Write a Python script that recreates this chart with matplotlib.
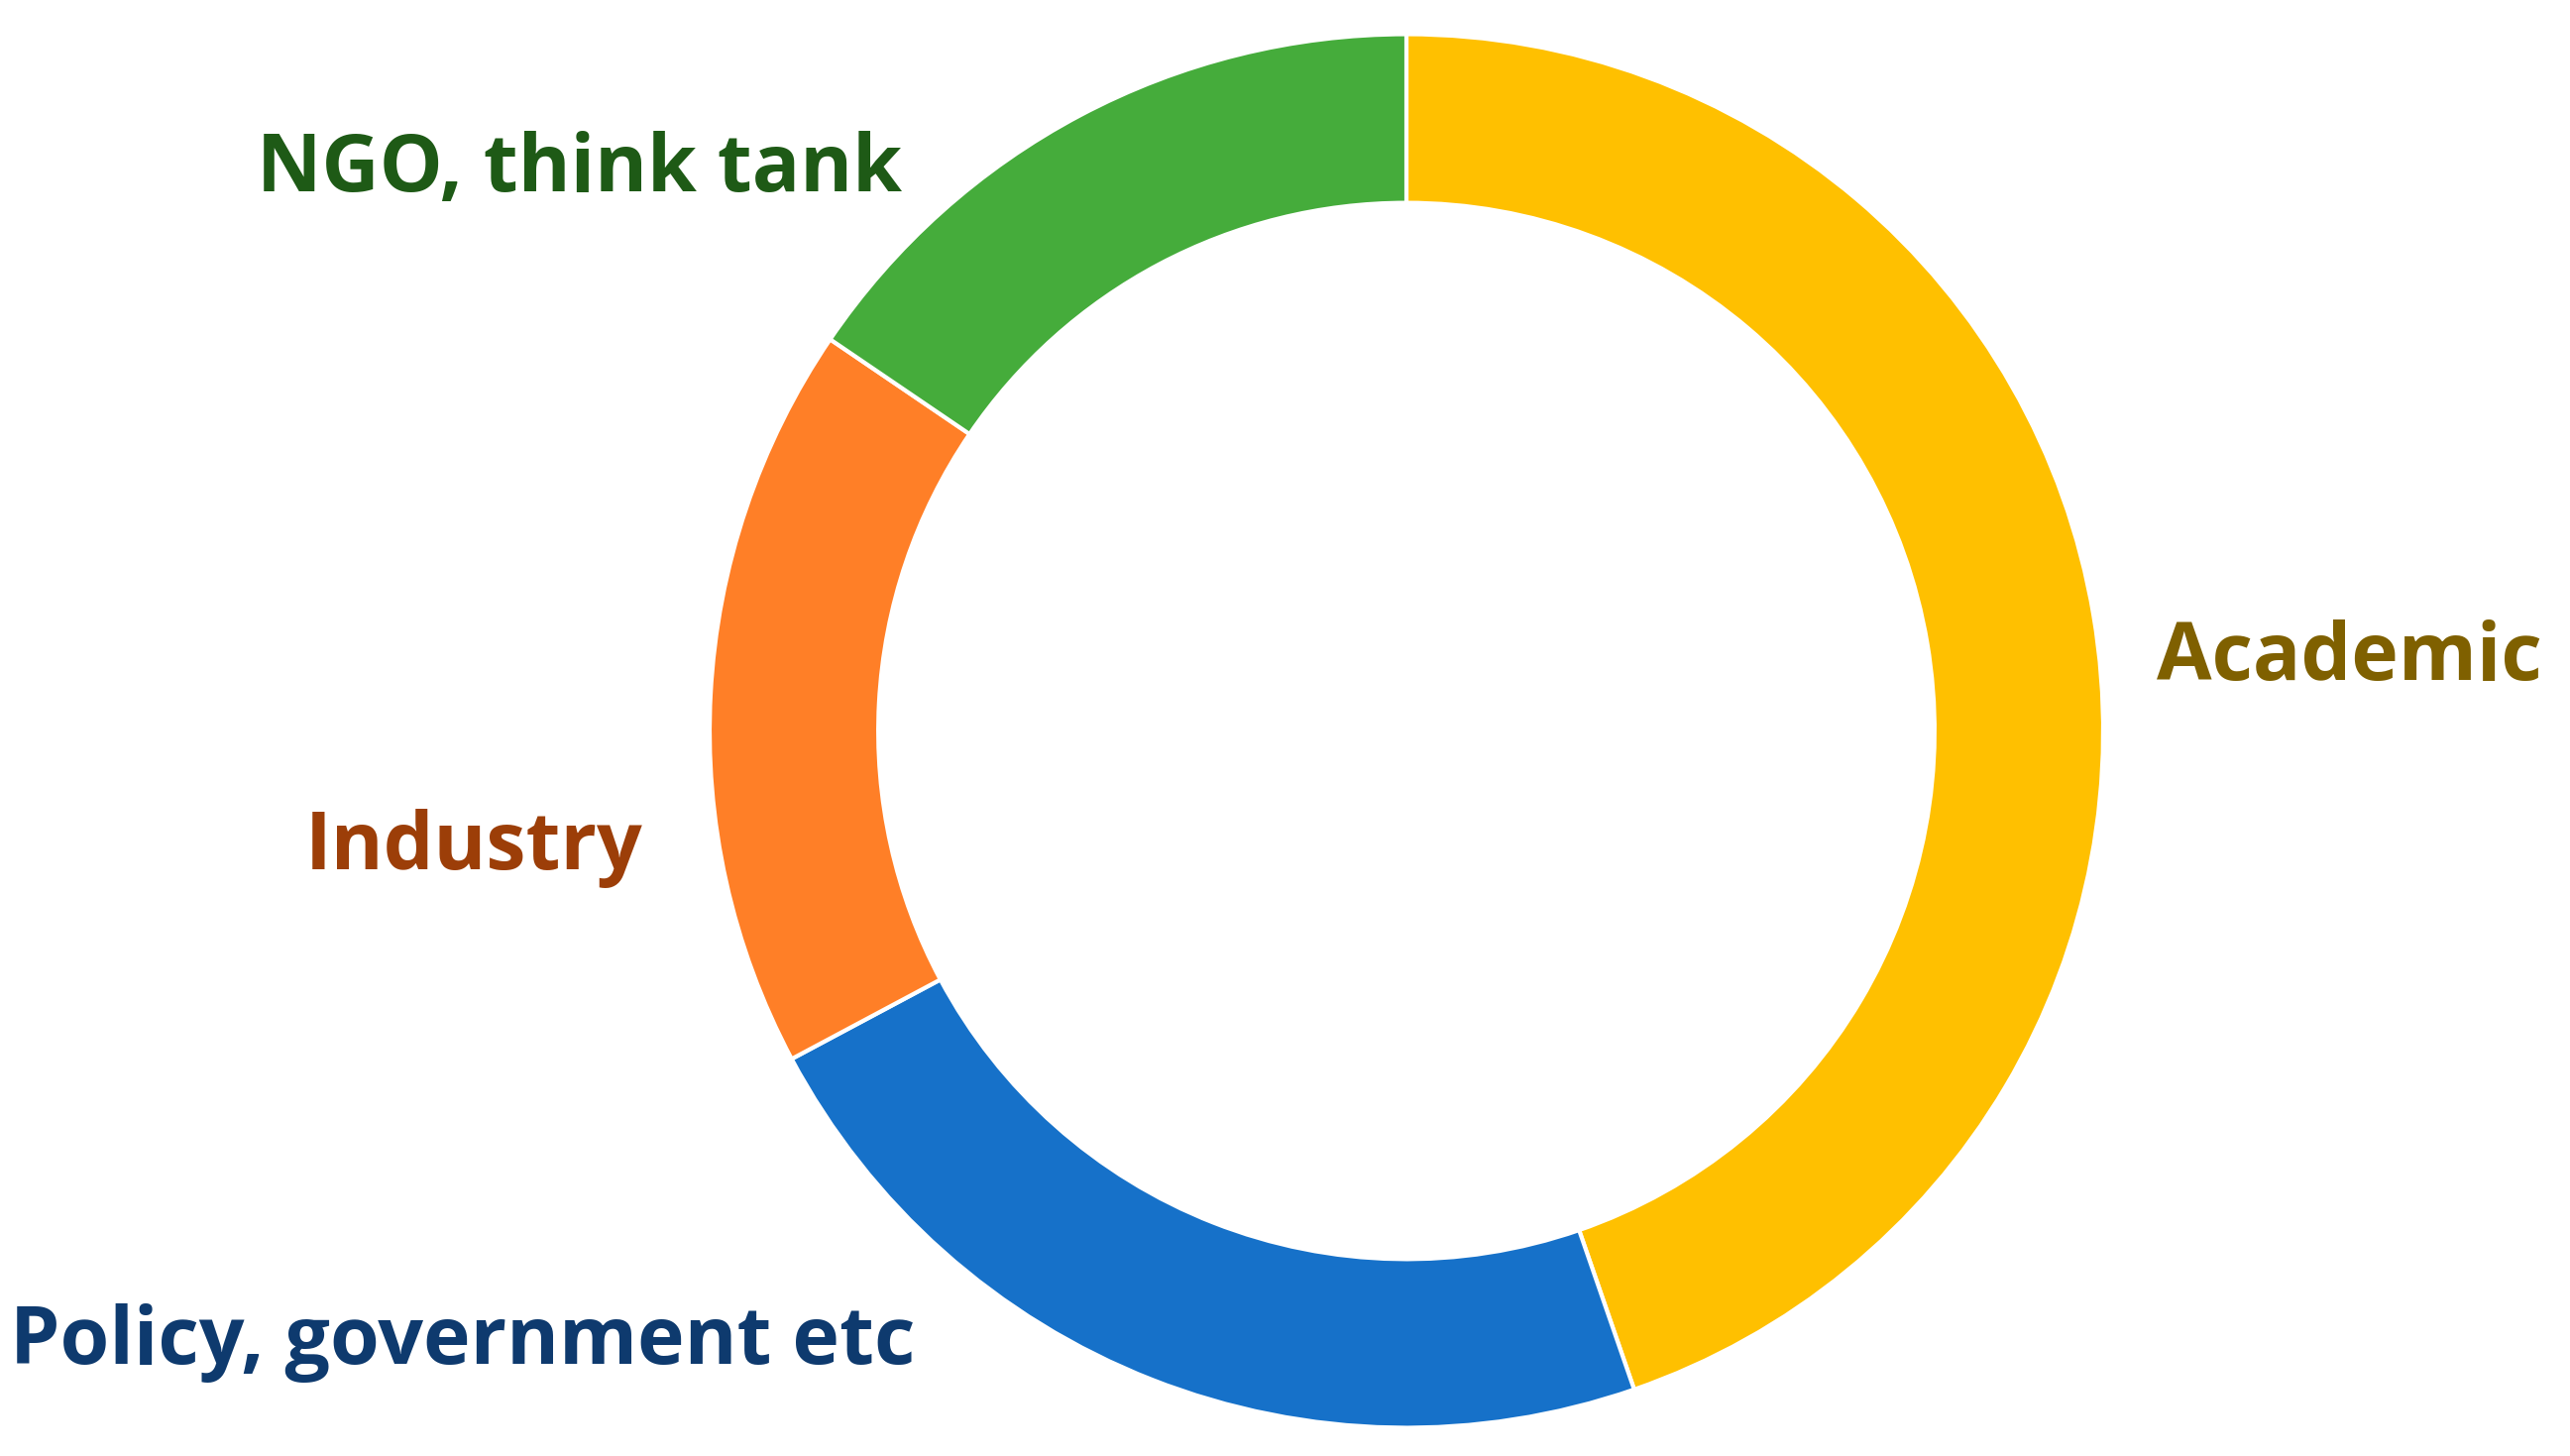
import matplotlib
matplotlib.use("Agg")
import matplotlib.pyplot as plt

categories = ["Academic", "Policy, government etc", "Industry", "NGO, think tank"]
values = [44.7, 22.5, 17.3, 15.5]
colors = ["#FFC000", "#1671C9", "#FF7F27", "#45AC3B"]
label_colors = ["#7F6000", "#0E3A6E", "#9C3E08", "#1E5A16"]

W, H = 2593, 1469
fig = plt.figure(figsize=(W / 100, H / 100), dpi=100)
ax = fig.add_axes([0, 0, 1, 1])

cx, cy, R = 1419, H - 737.5, 703
ax.pie(values, colors=colors, startangle=90, counterclock=False,
       center=(cx, cy), radius=R,
       wedgeprops=dict(width=R * 0.242, edgecolor="white", linewidth=3.0))
ax.set_xlim(0, W)
ax.set_ylim(0, H)
ax.set_aspect("equal")
ax.axis("off")

font = dict(family=["Open Sans", "DejaVu Sans"], fontweight="bold", fontsize=58)
# label anchor positions (pixel coords, from top)
pos = {
    "Academic": (2176, 686, "left"),
    "Policy, government etc": (10, 1376, "left"),
    "Industry": (478, 877, "center"),
    "NGO, think tank": (910, 193, "right"),
}
for cat, col in zip(categories, label_colors):
    x, y, ha = pos[cat]
    ax.text(x, H - y, cat, color=col, ha=ha, va="baseline", **font)

fig.savefig("out.png", dpi=100, facecolor="white")
